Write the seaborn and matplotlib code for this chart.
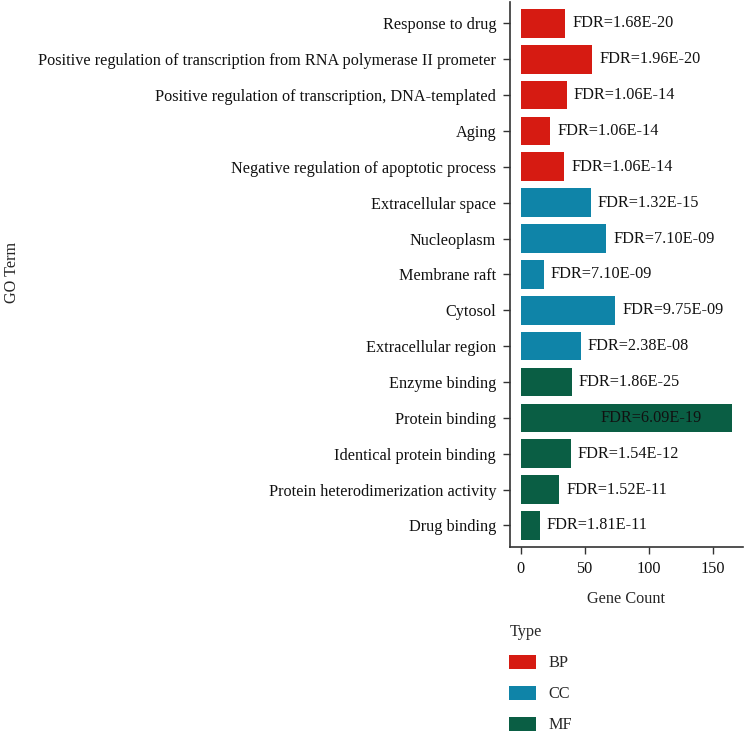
import matplotlib
matplotlib.use("Agg")
import matplotlib.pyplot as plt
import seaborn as sns
import pandas as pd
from matplotlib.patches import Patch

terms = [
    "Response to drug",
    "Positive regulation of transcription from RNA polymerase II prometer",
    "Positive regulation of transcription, DNA-templated",
    "Aging",
    "Negative regulation of apoptotic process",
    "Extracellular space",
    "Nucleoplasm",
    "Membrane raft",
    "Cytosol",
    "Extracellular region",
    "Enzyme binding",
    "Protein binding",
    "Identical protein binding",
    "Protein heterodimerization activity",
    "Drug binding",
]
counts = [35, 56, 36, 23, 34, 55, 67, 18, 74, 47, 40, 165, 39, 30, 15]
types = ["BP"] * 5 + ["CC"] * 5 + ["MF"] * 5
fdr = ["1.68E-20", "1.96E-20", "1.06E-14", "1.06E-14", "1.06E-14",
       "1.32E-15", "7.10E-09", "7.10E-09", "9.75E-09", "2.38E-08",
       "1.86E-25", "6.09E-19", "1.54E-12", "1.52E-11", "1.81E-11"]
type_levels = ["BP", "CC", "MF"]
palette = {"BP": "#D61B12", "CC": "#0F84A8", "MF": "#0A5E44"}

df = pd.DataFrame({"term": terms, "count": counts, "type": types, "fdr": fdr})

sns.set_style("white")
plt.rcParams["font.family"] = ["Liberation Serif", "DejaVu Serif"]
FS = 11.7

fig = plt.figure(figsize=(7.44, 7.38), dpi=100)
ax = fig.add_axes([510 / 744, 1 - 547 / 738, (742.5 - 510) / 744, (547 - 1.8) / 738])

sns.barplot(data=df, x="count", y="term", hue="type", palette=palette,
            hue_order=type_levels, dodge=False, orient="h", width=0.8,
            saturation=1, edgecolor="none", ax=ax, legend=False)

for i, (c, f) in enumerate(zip(counts, fdr)):
    xpos = c + 45 if c + 45 < 160 else c - 63
    ax.text(xpos, i, f"FDR={f}", ha="center", va="center", fontsize=FS, color="#111111")

ax.set_xlim(-8.25, 173.25)
ax.set_ylim(len(terms) - 0.4, -0.6)
ax.set_xticks([0, 50, 100, 150])
ax.set_xlabel("Gene Count", fontsize=FS, labelpad=10)
ax.set_ylabel("")
fig.text(12 / 744, 1 - 272 / 738, "GO Term", rotation=90, ha="center", va="center", fontsize=FS)

for s in ["top", "right"]:
    ax.spines[s].set_visible(False)
for s in ["left", "bottom"]:
    ax.spines[s].set_color("#333333")
    ax.spines[s].set_linewidth(1.2)
ax.tick_params(axis="both", which="both", bottom=True, left=True, length=5, width=1.0,
               color="#333333", labelsize=FS, labelcolor="#111111", direction="out")
ax.tick_params(axis="x", pad=5)
ax.tick_params(axis="y", pad=5)

handles = [Patch(facecolor=palette[t], edgecolor="none", label=t) for t in type_levels]
leg = fig.legend(handles=handles, title="Type", loc="upper left",
                 bbox_to_anchor=(503 / 744, 1 - 618 / 738), frameon=False,
                 fontsize=FS, title_fontsize=FS, handlelength=1.65, handleheight=0.9,
                 labelspacing=0.9, handletextpad=0.75, alignment="left", borderaxespad=0)

fig.savefig("out.png", dpi=100)
